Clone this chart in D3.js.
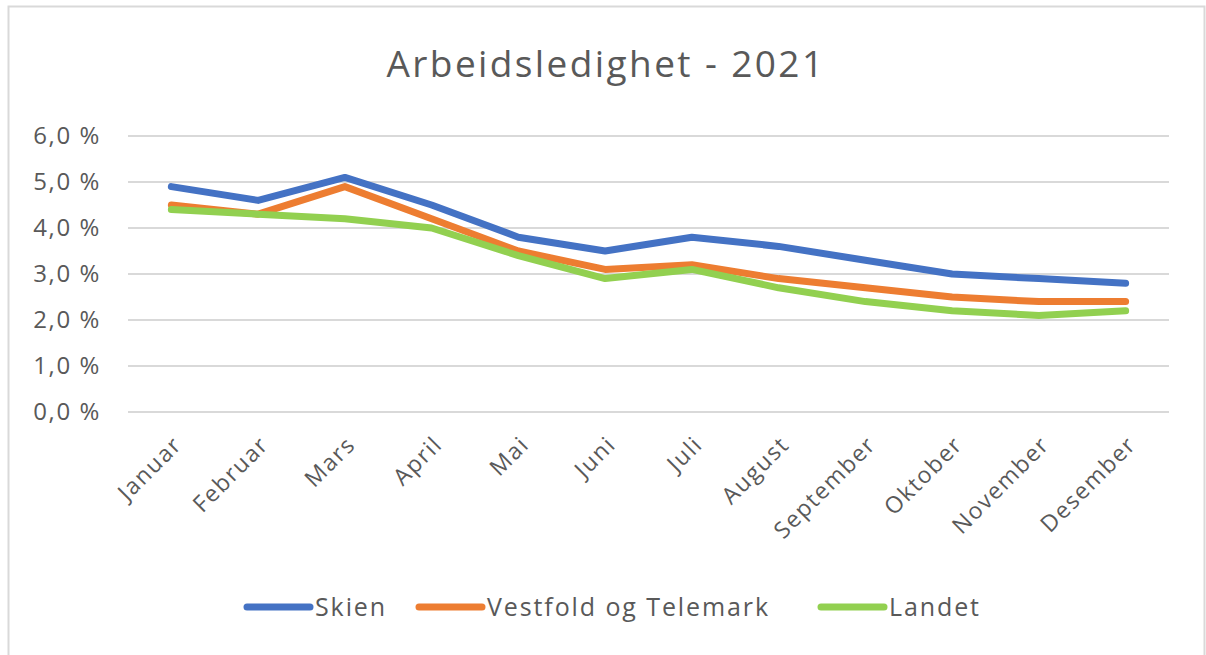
<!DOCTYPE html>
<html>
<head>
<meta charset="utf-8">
<script src="https://cdn.jsdelivr.net/npm/d3@7"></script>
<style>
  body { margin: 0; background: #fff; }
  svg { display: block; font-family: "Open Sans", "Noto Sans", sans-serif; }
</style>
</head>
<body>
<svg id="chart" width="1206" height="655"></svg>
<script>
// months on the x axis
var months = ["Januar", "Februar", "Mars", "April", "Mai", "Juni", "Juli",
  "August", "September", "Oktober", "November", "Desember"];

// unemployment in percent
var skien = [4.9, 4.6, 5.1, 4.5, 3.8, 3.5, 3.8, 3.6, 3.3, 3.0, 2.9, 2.8];
var vestfoldTelemark = [4.5, 4.3, 4.9, 4.2, 3.5, 3.1, 3.2, 2.9, 2.7, 2.5, 2.4, 2.4];
var landet = [4.4, 4.3, 4.2, 4.0, 3.4, 2.9, 3.1, 2.7, 2.4, 2.2, 2.1, 2.2];

var yTicks = [0, 1, 2, 3, 4, 5, 6];

var seriesNames = ["Skien", "Vestfold og Telemark", "Landet"];
var seriesColors = ["#4472C4", "#ED7D31", "#92D050"];
var series = [skien, vestfoldTelemark, landet];

var svg = d3.select("#chart");

// outer frame
svg.append("rect")
  .attr("x", 8.5).attr("y", 6.5)
  .attr("width", 1196).attr("height", 660)
  .attr("fill", "none")
  .attr("stroke", "#d9d9d9")
  .attr("stroke-width", 2);

var x = d3.scaleBand().domain(months).range([128, 1169]);
var y = d3.scaleLinear().domain([0, 6]).range([412, 136]);

// title
svg.append("text")
  .attr("x", 606).attr("y", 77)
  .attr("text-anchor", "middle")
  .attr("fill", "#595959")
  .style("font-size", "37px")
  .style("letter-spacing", "2.4px")
  .text("Arbeidsledighet - 2021");

// gridlines
svg.append("g")
  .selectAll("line")
  .data(yTicks)
  .join("line")
  .attr("x1", 128).attr("x2", 1169)
  .attr("y1", d => y(d)).attr("y2", d => y(d))
  .attr("stroke", "#d9d9d9")
  .attr("stroke-width", 2);

// y axis labels
var fmt = d => d.toFixed(1).replace(".", ",") + " %";
svg.append("g")
  .selectAll("text")
  .data(yTicks)
  .join("text")
  .attr("x", 101)
  .attr("y", d => y(d))
  .attr("dy", "0.35em")
  .attr("text-anchor", "end")
  .attr("fill", "#595959")
  .style("font-size", "24px")
  .style("letter-spacing", "1.6px")
  .text(fmt);

// x axis labels, rotated
svg.append("g")
  .selectAll("text")
  .data(months)
  .join("text")
  .attr("transform", d => "translate(" + (x(d) + x.bandwidth() / 2 + 12) + ",446) rotate(-45)")
  .attr("text-anchor", "end")
  .attr("fill", "#595959")
  .style("font-size", "23px")
  .style("letter-spacing", "1.6px")
  .text(d => d);

// the lines
var line = d3.line()
  .x((d, i) => x(months[i]) + x.bandwidth() / 2)
  .y(d => y(d));

svg.append("g")
  .selectAll("path")
  .data(series)
  .join("path")
  .attr("d", line)
  .attr("fill", "none")
  .attr("stroke", (d, i) => seriesColors[i])
  .attr("stroke-width", 7)
  .attr("stroke-linecap", "round")
  .attr("stroke-linejoin", "round");

// legend
var legendX = [244, 416, 818];
var lg = svg.append("g")
  .selectAll("g")
  .data(seriesNames)
  .join("g")
  .attr("transform", (d, i) => "translate(" + legendX[i] + ",607)");

lg.append("line")
  .attr("x1", 3).attr("x2", 66)
  .attr("stroke", (d, i) => seriesColors[i])
  .attr("stroke-width", 7)
  .attr("stroke-linecap", "round");

lg.append("text")
  .attr("x", 71)
  .attr("dy", "0.35em")
  .attr("fill", "#595959")
  .style("font-size", "25px")
  .style("letter-spacing", "1.9px")
  .text(d => d);
</script>
</body>
</html>
